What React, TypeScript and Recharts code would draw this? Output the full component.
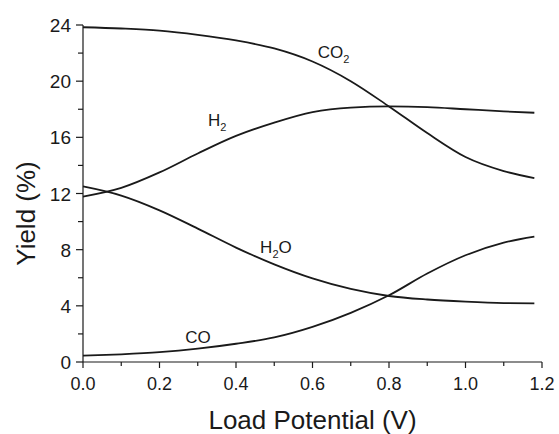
import React from 'react';
import { LineChart, Line, XAxis, YAxis, ReferenceDot, Label } from 'recharts';

// load potential (V)
const potential = [0, 0.1, 0.2, 0.3, 0.4, 0.5, 0.6, 0.7, 0.8, 0.9, 1.0, 1.1, 1.18];

// yields (%)
const co2Yield = [23.84, 23.75, 23.6, 23.3, 22.9, 22.33, 21.4, 20.0, 18.2, 16.3, 14.6, 13.6, 13.1];
const h2Yield = [11.78, 12.4, 13.5, 14.85, 16.1, 17.05, 17.8, 18.12, 18.2, 18.15, 18.0, 17.85, 17.75];
const h2oYield = [12.5, 11.85, 10.8, 9.5, 8.15, 6.95, 5.95, 5.2, 4.7, 4.45, 4.3, 4.2, 4.18];
const coYield = [0.45, 0.55, 0.7, 0.95, 1.3, 1.75, 2.5, 3.5, 4.75, 6.3, 7.6, 8.5, 8.93];

const xTicks = [0, 0.1, 0.2, 0.3, 0.4, 0.5, 0.6, 0.7, 0.8, 0.9, 1.0, 1.1, 1.2];
const yTicks = [0, 2, 4, 6, 8, 10, 12, 14, 16, 18, 20, 22, 24];

// curve name labels: [name, subscript, trailing text, x, y]
const curveLabels: [string, string, string, number, number][] = [
  ['CO', '2', '', 0.614, 21.65],
  ['H', '2', '', 0.327, 16.8],
  ['H', '2', 'O', 0.463, 7.76],
  ['CO', '', '', 0.267, 1.35],
];

const data = potential.map((v, i) => ({
  v,
  co2: co2Yield[i],
  h2: h2Yield[i],
  h2o: h2oYield[i],
  co: coYield[i],
}));

const FONT = '"Liberation Sans", Arial, sans-serif';
const INK = '#1a1a1a';

const XTick = (props: any) => {
  const { x, y, payload } = props;
  const major = Math.round(payload.value * 10) % 2 === 0;
  return (
    <g>
      <line x1={x} x2={x} y1={y} y2={y + (major ? 6 : 4)} stroke={INK} strokeWidth={1.2} />
      {major && (
        <text x={x} y={y + 28} textAnchor="middle" fontSize={18} fontFamily={FONT} fill={INK}>
          {payload.value.toFixed(1)}
        </text>
      )}
    </g>
  );
};

const YTick = (props: any) => {
  const { x, y, payload } = props;
  const major = payload.value % 4 === 0;
  return (
    <g>
      <line x1={x} x2={x - (major ? 7 : 5)} y1={y} y2={y} stroke={INK} strokeWidth={1.2} />
      {major && (
        <text x={x - 12} y={y + 7} textAnchor="end" fontSize={19} fontFamily={FONT} fill={INK}>
          {payload.value}
        </text>
      )}
    </g>
  );
};

const XTitle = (p: any) => {
  const vb = p.viewBox;
  return (
    <text x={vb.x + vb.width / 2} y={vb.y + 67} textAnchor="middle" fontSize={26} fontFamily={FONT} fill={INK}>
      Load Potential (V)
    </text>
  );
};

const YTitle = (p: any) => {
  const vb = p.viewBox;
  const x = vb.x + vb.width - 48;
  const y = vb.y + vb.height / 2 + 20;
  return (
    <text x={x} y={y} transform={`rotate(-90 ${x} ${y})`} textAnchor="middle" fontSize={26} fontFamily={FONT} fill={INK}>
      Yield (%)
    </text>
  );
};

const curveLabel = (name: string, sub: string, tail: string) => (p: any) => {
  const { x, y } = p.viewBox;
  return (
    <text x={x} y={y} fontSize={17} fontFamily={FONT} fill={INK}>
      {name}
      {sub && (
        <tspan dy={5} fontSize={11}>
          {sub}
        </tspan>
      )}
      {tail && <tspan dy={-5}>{tail}</tspan>}
    </text>
  );
};

export default function App() {
  return (
    <div style={{ position: 'absolute', left: 0, top: 0, background: '#fff' }}>
      <LineChart width={559} height={434} data={data} margin={{ top: 25, right: 17, bottom: 42, left: 53 }}>
        <XAxis
          dataKey="v"
          type="number"
          domain={[0, 1.2]}
          ticks={xTicks}
          interval={0}
          height={30}
          tickSize={0}
          tickMargin={0}
          tick={<XTick />}
          stroke={INK}
          strokeWidth={1.2}
        >
          <Label content={<XTitle />} />
        </XAxis>
        <YAxis
          type="number"
          domain={[0, 24]}
          ticks={yTicks}
          interval={0}
          width={30}
          tickSize={0}
          tickMargin={0}
          tick={<YTick />}
          stroke={INK}
          strokeWidth={1.2}
        >
          <Label content={<YTitle />} />
        </YAxis>
        <Line type="monotone" dataKey="co2" stroke={INK} strokeWidth={1.8} dot={false} isAnimationActive={false} />
        <Line type="monotone" dataKey="h2" stroke={INK} strokeWidth={1.8} dot={false} isAnimationActive={false} />
        <Line type="monotone" dataKey="h2o" stroke={INK} strokeWidth={1.8} dot={false} isAnimationActive={false} />
        <Line type="monotone" dataKey="co" stroke={INK} strokeWidth={1.8} dot={false} isAnimationActive={false} />
        {curveLabels.map(([name, sub, tail, x, y]) => (
          <ReferenceDot
            key={name + sub + tail}
            x={x}
            y={y}
            r={0}
            fill="none"
            stroke="none"
            label={curveLabel(name, sub, tail)}
          />
        ))}
      </LineChart>
    </div>
  );
}
